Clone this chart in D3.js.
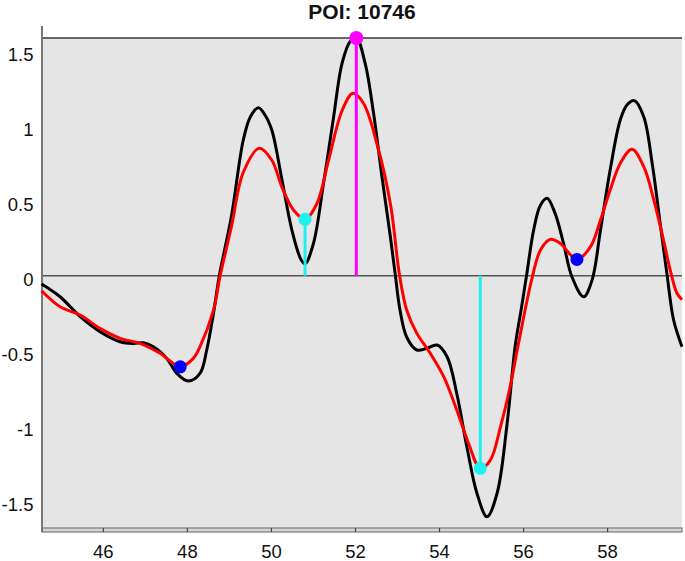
<!DOCTYPE html>
<html>
<head>
<meta charset="utf-8">
<script src="https://cdn.jsdelivr.net/npm/d3@7"></script>
<style>
    body { margin: 0; background: #fff; }
    text { font-family: "Liberation Sans", Arial, sans-serif; }
</style>
</head>
<body>
<div id="chart-container"></div>
<script>
let width = 685;
let height = 561;
let margin = ({top: 38, right: 3, bottom: 31, left: 42});

// raw signal (black)
const signalX = [44.53, 44.97, 45.45, 45.92, 46.40, 46.71, 46.95, 47.19, 47.51, 47.75, 48.02, 48.30, 48.46, 48.62, 48.76,
    49.05, 49.33, 49.50, 49.69, 49.85, 50.01, 50.25, 50.49, 50.70, 50.80, 51.00, 51.24, 51.48, 51.68, 51.87, 52.02,
    52.23, 52.43, 52.63, 52.83, 52.95, 53.06, 53.22, 53.46, 53.70, 53.94, 54.18, 54.41, 54.65, 54.89, 55.13, 55.37,
    55.60, 55.80, 55.94, 56.07, 56.24, 56.40, 56.56, 56.75, 56.95, 57.15, 57.43, 57.63, 57.83, 58.06, 58.30, 58.46,
    58.64, 58.86, 59.06, 59.25, 59.41, 59.57, 59.77];
const signalY = [-0.055, -0.14, -0.273, -0.373, -0.44, -0.451, -0.447, -0.473, -0.551, -0.651, -0.702, -0.651, -0.495, -0.251, 0.0,
    0.40, 0.905, 1.06, 1.12, 1.07, 0.97, 0.64, 0.30, 0.11, 0.08, 0.216, 0.616, 1.06, 1.416, 1.56, 1.585,
    1.416, 1.083, 0.66, 0.26, 0.0, -0.23, -0.41, -0.495, -0.484, -0.462, -0.54, -0.785, -1.14, -1.45, -1.607, -1.45,
    -1.007, -0.47, -0.23, 0.0, 0.305, 0.47, 0.516, 0.416, 0.216, -0.007, -0.14, -0.029, 0.305, 0.705, 1.038, 1.138,
    1.167, 1.06, 0.75, 0.35, 0.016, -0.295, -0.473];

// smoothed signal (red)
const smoothX = [44.53, 44.97, 45.45, 45.92, 46.40, 46.87, 47.35, 47.83, 48.14, 48.30, 48.62, 48.78, 49.05, 49.33, 49.71,
    50.01, 50.25, 50.52, 50.80, 51.08, 51.36, 51.68, 51.94, 52.19, 52.51, 52.83, 53.05, 53.22, 53.46, 53.78, 54.10,
    54.41, 54.69, 54.97, 55.21, 55.45, 55.68, 55.88, 56.19, 56.40, 56.64, 56.87, 57.27, 57.59, 57.83, 58.06, 58.30,
    58.58, 58.86, 59.10, 59.33, 59.49, 59.65, 59.77];
const smoothY = [-0.10, -0.207, -0.262, -0.351, -0.417, -0.451, -0.517, -0.607, -0.551, -0.473, -0.229, 0.0, 0.33, 0.69, 0.85,
    0.77, 0.59, 0.44, 0.376, 0.48, 0.77, 1.10, 1.216, 1.15, 0.88, 0.48, 0.0, -0.23, -0.384, -0.517, -0.673,
    -0.895, -1.117, -1.284, -1.229, -1.007, -0.74, -0.45, -0.03, 0.17, 0.243, 0.216, 0.109, 0.193, 0.371, 0.571, 0.749,
    0.843, 0.727, 0.505, 0.238, 0.038, -0.117, -0.16];

// points of interest
const minima = [[47.83, -0.607], [57.27, 0.109]];
const stems = [[50.80, 0.376], [54.97, -1.284]];
const peak = [[52.02, 1.585]];

const xTicks = [46, 48, 50, 52, 54, 56, 58];
const yTicks = [1.5, 1, 0.5, 0, -0.5, -1, -1.5];
const title = "POI: 10746";

function drawChart() {
    const x = d3.scaleLinear()
        .domain([44.54, 59.77])
        .range([margin.left, width - margin.right]);

    const y = d3.scaleLinear()
        .domain([-1.695, 1.585])
        .range([height - margin.bottom, margin.top]);

    const svg = d3.select("#chart-container")
        .append("svg")
        .attr("width", width)
        .attr("height", height);

    // plot background
    svg.append("rect")
        .attr("x", x.range()[0])
        .attr("y", y.range()[1])
        .attr("width", x.range()[1] - x.range()[0])
        .attr("height", y.range()[0] - y.range()[1])
        .attr("fill", "#e5e5e5");

    // top border
    svg.append("line")
        .attr("x1", x.range()[0]).attr("x2", x.range()[1])
        .attr("y1", y.range()[1]).attr("y2", y.range()[1])
        .attr("stroke", "#666").attr("stroke-width", 2);

    // zero line
    svg.append("line")
        .attr("x1", x.range()[0]).attr("x2", x.range()[1])
        .attr("y1", y(0)).attr("y2", y(0))
        .attr("stroke", "#555").attr("stroke-width", 1.5);

    // bottom axis as a thin band
    const band = svg.append("g").attr("class", "x-axis");
    band.append("rect")
        .attr("x", x.range()[0])
        .attr("y", y.range()[0] - 2)
        .attr("width", x.range()[1] - x.range()[0])
        .attr("height", 4)
        .attr("fill", "#d4d4d4")
        .attr("stroke", "#7a7a7a")
        .attr("stroke-width", 1.2);
    band.selectAll("line")
        .data(xTicks)
        .join("line")
        .attr("x1", d => x(d)).attr("x2", d => x(d))
        .attr("y1", y.range()[0] - 2).attr("y2", y.range()[0] + 2)
        .attr("stroke", "#444").attr("stroke-width", 1.2);
    band.selectAll("text")
        .data(xTicks)
        .join("text")
        .attr("x", d => x(d))
        .attr("y", 558)
        .attr("text-anchor", "middle")
        .attr("font-size", 18.5)
        .attr("fill", "#111")
        .text(d => d);

    // left axis
    svg.append("line")
        .attr("x1", x.range()[0]).attr("x2", x.range()[0])
        .attr("y1", 26).attr("y2", y.range()[0] + 2)
        .attr("stroke", "#777").attr("stroke-width", 2);
    svg.append("g")
        .attr("class", "y-axis")
        .selectAll("text")
        .data(yTicks)
        .join("text")
        .attr("x", 33.5)
        .attr("y", d => y(d) + 3.5)
        .attr("dy", "0.35em")
        .attr("text-anchor", "end")
        .attr("font-size", 18.5)
        .attr("fill", "#111")
        .text(d => String(d));

    const line = d3.line()
        .x(d => x(d[0]))
        .y(d => y(d[1]))
        .curve(d3.curveCatmullRom.alpha(0.5));

    svg.append("path")
        .datum(d3.zip(signalX, signalY))
        .attr("fill", "none")
        .attr("stroke", "#000")
        .attr("stroke-width", 3)
        .attr("stroke-linejoin", "round")
        .attr("d", line);

    svg.append("path")
        .datum(d3.zip(smoothX, smoothY))
        .attr("fill", "none")
        .attr("stroke", "#ff0000")
        .attr("stroke-width", 3)
        .attr("stroke-linejoin", "round")
        .attr("d", line);

    // stems from zero
    svg.append("g")
        .selectAll("line")
        .data(stems)
        .join("line")
        .attr("x1", d => x(d[0])).attr("x2", d => x(d[0]))
        .attr("y1", y(0)).attr("y2", d => y(d[1]))
        .attr("stroke", "#1ff0f0").attr("stroke-width", 3);
    svg.append("g")
        .selectAll("line")
        .data(peak)
        .join("line")
        .attr("x1", d => x(d[0])).attr("x2", d => x(d[0]))
        .attr("y1", y(0)).attr("y2", d => y(d[1]))
        .attr("stroke", "#ff00ff").attr("stroke-width", 3);

    svg.append("g")
        .selectAll("circle")
        .data(stems)
        .join("circle")
        .attr("cx", d => x(d[0])).attr("cy", d => y(d[1]))
        .attr("r", 6.5)
        .attr("fill", "#1ff0f0");
    svg.append("g")
        .selectAll("circle")
        .data(peak)
        .join("circle")
        .attr("cx", d => x(d[0])).attr("cy", d => y(d[1]))
        .attr("r", 7)
        .attr("fill", "#ff00ff");
    svg.append("g")
        .selectAll("circle")
        .data(minima)
        .join("circle")
        .attr("cx", d => x(d[0])).attr("cy", d => y(d[1]))
        .attr("r", 6.5)
        .attr("fill", "#0000ff");

    svg.append("text")
        .attr("x", (x.range()[0] + x.range()[1]) / 2)
        .attr("y", 19)
        .attr("text-anchor", "middle")
        .attr("font-size", 21)
        .attr("font-weight", "bold")
        .attr("fill", "#111")
        .text(title);
}

drawChart();
</script>
</body>
</html>
